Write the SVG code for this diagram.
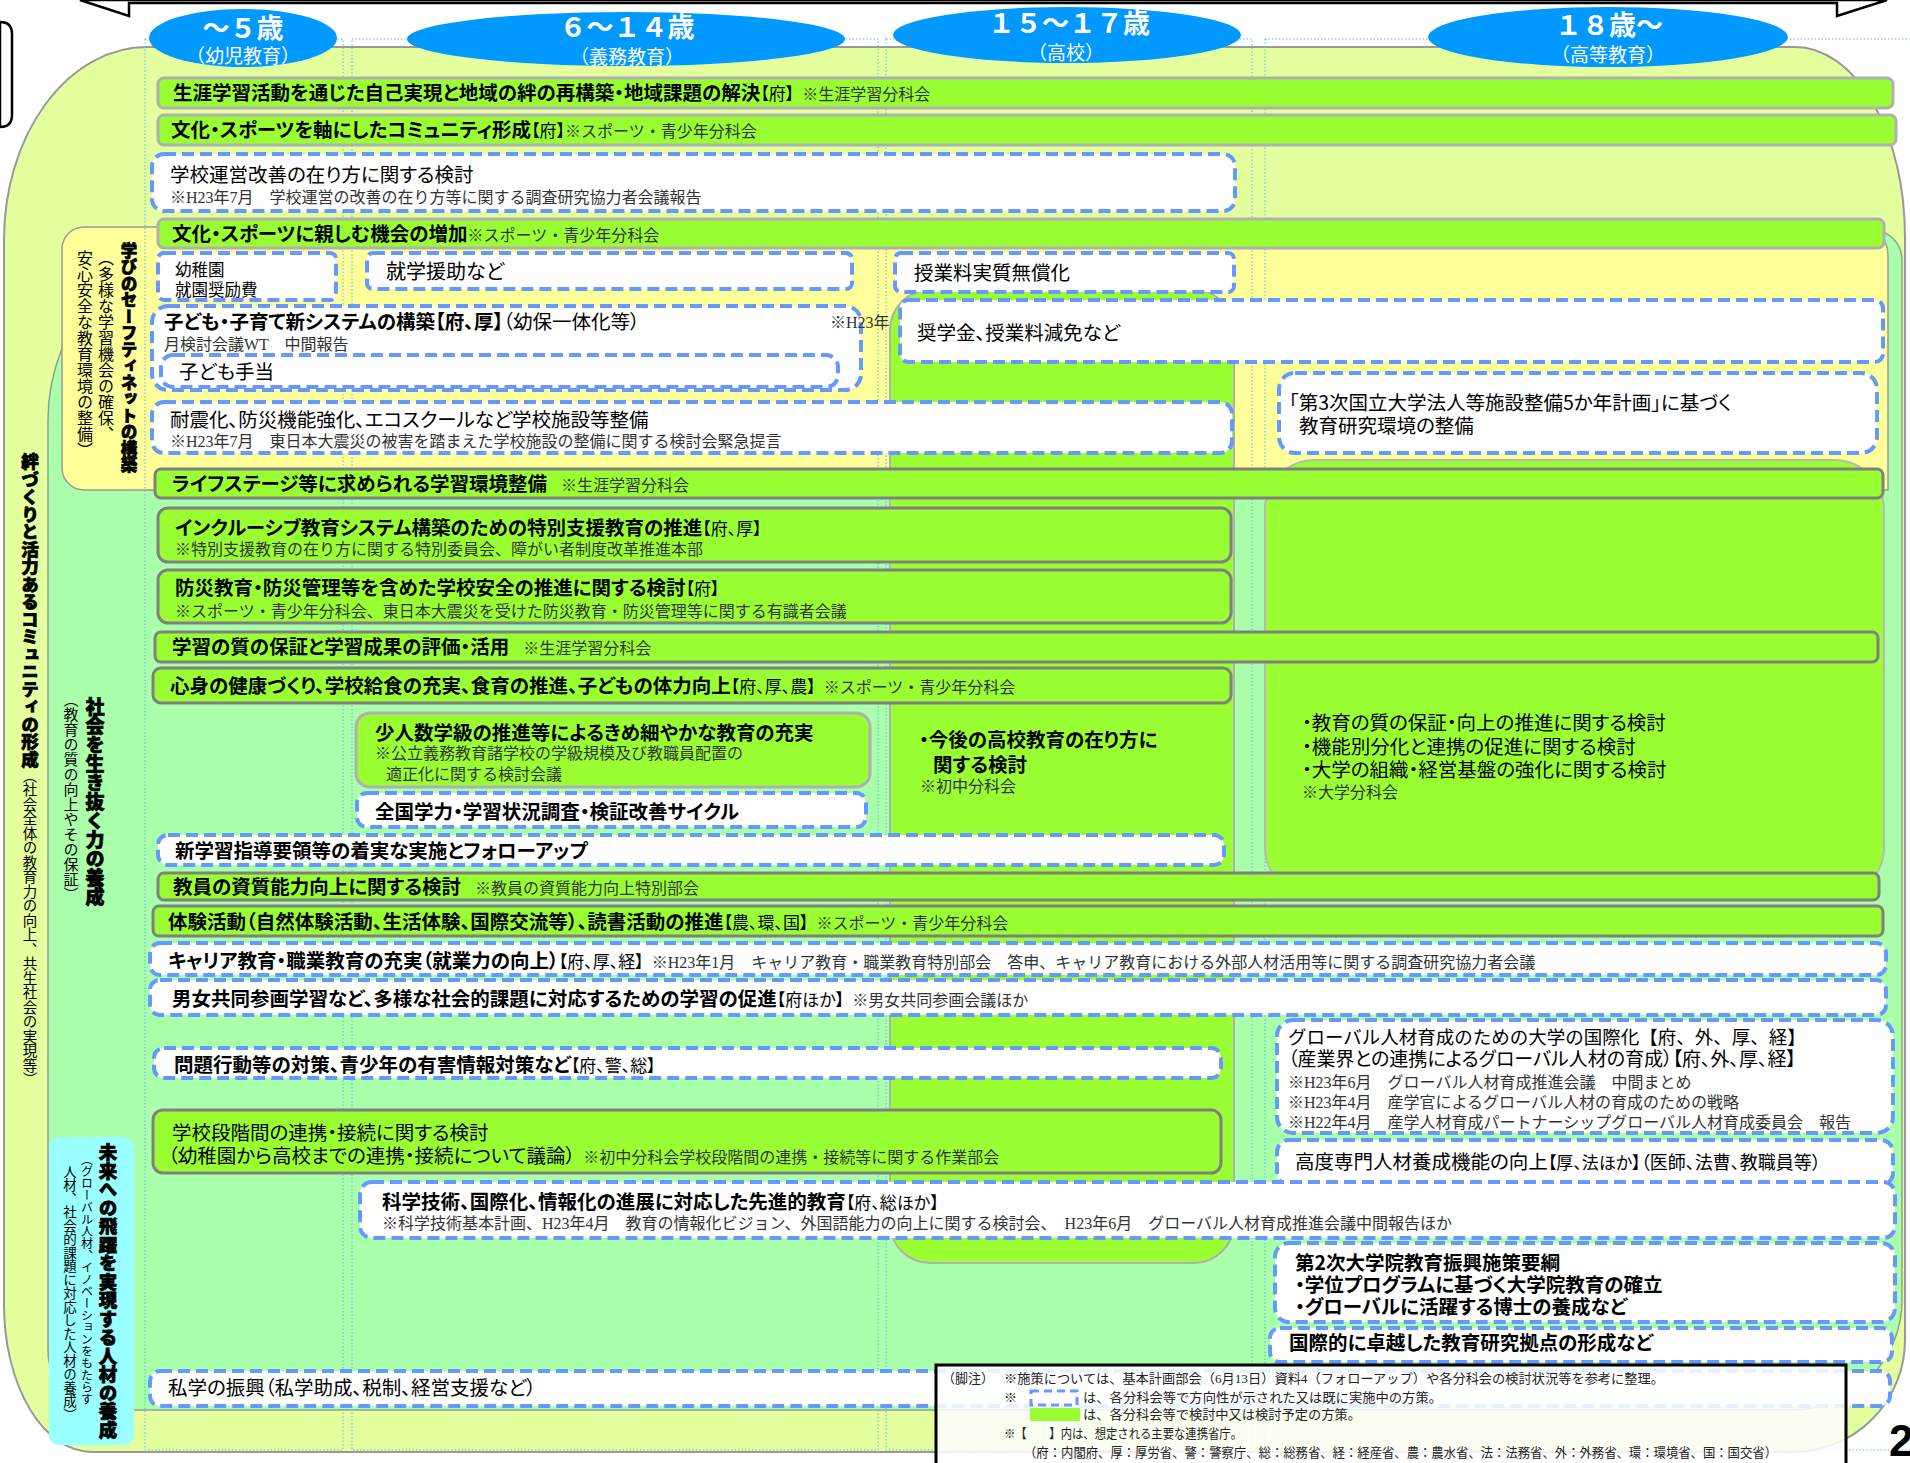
<svg xmlns="http://www.w3.org/2000/svg" width="1910" height="1463" viewBox="0 0 1910 1463">
<defs>
<style>
.t{font-family:'Noto Sans CJK JP','Noto Sans',sans-serif;font-size:19.5px;fill:#000;font-feature-settings:'palt' 1;}
.np{font-feature-settings:normal;}
.bd{font-weight:bold;}
.k{font-weight:normal;font-size:17px;}
.s{font-family:'Liberation Serif','Noto Sans CJK JP',serif;font-weight:normal;font-size:16px;fill:#333;font-feature-settings:normal;}
.b{fill:#fff;stroke:#6699ff;stroke-width:4;stroke-dasharray:12 6;}
.g{fill:#99ff33;stroke:#b0b0b0;stroke-width:3;}
.g2{fill:#99ff33;stroke:#808080;stroke-width:3;}
.v{font-family:'Noto Sans CJK JP',sans-serif;writing-mode:vertical-rl;fill:#000;}
.vb{font-weight:900;stroke:#000;stroke-width:0.7;}
.e{fill:#0099ff;}
.et{font-family:'Noto Sans CJK JP',sans-serif;fill:#fff;text-anchor:middle;}
.f{font-family:'Liberation Serif','Noto Sans CJK JP',serif;font-size:13px;fill:#222;}
.gd{fill:none;stroke:#55bbee;stroke-width:1;stroke-dasharray:1.5 2;}
</style>
</defs>
<rect width="1910" height="1463" fill="#fff"/>

<g id="backgrounds">
<path d="M147,47 H1795 A110,190 0 0 1 1905,237 V1340 A112,112 0 0 1 1793,1452 H92 A88,147 0 0 1 4,1305 V240 A143,193 0 0 1 147,47 Z" fill="#e3ff9e" stroke="#999" stroke-width="2"/>
<path d="M240,230 H1872 A30,30 0 0 1 1902,260 V1300 A110,110 0 0 1 1792,1410 H108 A60,60 0 0 1 48,1350 V420 A192,190 0 0 1 240,230 Z" fill="#aaffaa" stroke="#999" stroke-width="1.5"/>
<path d="M84,227 H1860 A28,28 0 0 1 1888,255 V490 H84 A22,22 0 0 1 62,468 V249 A22,22 0 0 1 84,227 Z" fill="#ffff99" stroke="#999" stroke-width="1.5"/>
<g id="guides">
<rect class="gd" x="145" y="39" width="198" height="1411"/>
<rect class="gd" x="352" y="39" width="526" height="1411"/>
<rect class="gd" x="886" y="39" width="366" height="1411"/>
<rect class="gd" x="1265" y="39" width="660" height="1411"/>
</g>
<rect x="890" y="290" width="344" height="973" rx="40" fill="#99ff33" stroke="#b0b0b0" stroke-width="2"/>
<rect x="1265" y="460" width="619" height="437" rx="50" fill="#99ff33" stroke="#b8b8b8" stroke-width="2"/>
<rect x="49" y="1137" width="85" height="308" rx="10" fill="#99ffff"/>
</g>

<g id="callout">
<path d="M80,0 L129,16 L129,3 L1837,3 L1837,16 L1887,0 Z" fill="#fff" stroke="#000" stroke-width="2.5"/>
<path d="M0,22 Q12,22 12,34 V115 Q12,127 0,127 Z" fill="#fff" stroke="#000" stroke-width="2.5"/>
</g>

<g id="headers">
<g id="h-age5"><ellipse class="e" cx="243" cy="38" rx="94" ry="29"/>
<text class="et" x="243" y="38" style="font-size:27px;font-weight:bold">～５歳</text>
<text class="et" x="243" y="63" style="font-size:19px">（幼児教育）</text></g>
<g id="h-age6"><ellipse class="e" cx="626" cy="39" rx="219" ry="27"/>
<text class="et" x="627" y="37" style="font-size:27px;font-weight:bold">６～１４歳</text>
<text class="et" x="627" y="64" style="font-size:19px">（義務教育）</text></g>
<g id="h-age15"><ellipse class="e" cx="1067" cy="35" rx="174" ry="28"/>
<text class="et" x="1069" y="33" style="font-size:27px;font-weight:bold">１５～１７歳</text>
<text class="et" x="1066" y="60" style="font-size:19px">（高校）</text></g>
<g id="h-age18"><ellipse class="e" cx="1608" cy="37" rx="180" ry="30"/>
<text class="et" x="1609" y="35" style="font-size:27px;font-weight:bold">１８歳～</text>
<text class="et" x="1608" y="62" style="font-size:19px">（高等教育）</text></g>
</g>

<g id="labels">
<text class="v vb" x="129" y="242" style="font-size:16.5px">学びのセーフティネットの構築</text>
<text class="v" x="106" y="250" style="font-size:16px">（多様な学習機会の確保、</text>
<text class="v" x="85" y="250" style="font-size:16px">安心安全な教育環境の整備）</text>
<text class="v" x="30" y="453"><tspan class="vb" style="font-size:17.5px">絆づくりと活力あるコミュニティの形成</tspan><tspan style="font-size:14.5px">（社会全体の教育力の向上、共生社会の実現等）</tspan></text>
<text class="v vb" x="95" y="697" style="font-size:19px">社会を生き抜く力の養成</text>
<text class="v" x="71" y="692" style="font-size:15px">（教育の質の向上やその保証）</text>
<text class="v vb" x="108" y="1143" style="font-size:18.5px">未来への飛躍を実現する人材の養成</text>
<text class="v" x="87" y="1153" style="font-size:12px">（グローバル人材、イノベーションをもたらす</text>
<text class="v" x="70" y="1165" style="font-size:13.5px">人材、社会的課題に対応した人材の養成）</text>
</g>

<g id="connectors"></g>

<g id="n01"><rect class="g" x="158" y="78" width="1735" height="30" rx="6"/>
<text class="t" x="173" y="100"><tspan class="bd">生涯学習活動を通じた自己実現と地域の絆の再構築・地域課題の解決</tspan><tspan class="k">【府】</tspan><tspan class="s" dx="8">※生涯学習分科会</tspan></text></g>

<g id="n02"><rect class="g" x="158" y="115" width="1738" height="30" rx="6"/>
<text class="t" x="171" y="137"><tspan class="bd">文化・スポーツを軸にしたコミュニティ形成</tspan><tspan class="k">【府】</tspan><tspan class="s">※スポーツ・青少年分科会</tspan></text></g>

<g id="n03"><rect class="b" x="152" y="154" width="1083" height="57" rx="12"/>
<text class="t" x="170" y="182">学校運営改善の在り方に関する検討</text>
<text class="t s" x="170" y="203">※H23年7月　学校運営の改善の在り方等に関する調査研究協力者会議報告</text></g>

<g id="n04"><rect class="g" x="158" y="219" width="1726" height="29" rx="6"/>
<text class="t" x="172" y="241"><tspan class="bd">文化・スポーツに親しむ機会の増加</tspan><tspan class="s">※スポーツ・青少年分科会</tspan></text></g>

<g id="n05"><rect class="b" x="158" y="253" width="178" height="47" rx="6"/>
<text class="t" x="175" y="276" style="font-size:16.5px">幼稚園</text>
<text class="t" x="175" y="296" style="font-size:16.5px">就園奨励費</text></g>

<g id="n06"><rect class="b" x="367" y="253" width="485" height="36" rx="6"/>
<text class="t" x="386" y="279" style="font-size:20px">就学援助など</text></g>

<g id="n07"><rect class="b" x="895" y="253" width="339" height="39" rx="6"/>
<text class="t" x="914" y="280">授業料実質無償化</text></g>

<g id="n08"><rect class="b" x="152" y="306" width="709" height="84" rx="16"/>
<text class="t" x="164" y="329"><tspan class="bd">子ども・子育て新システムの構築【府、厚】</tspan><tspan>（幼保一体化等）</tspan></text>
<text class="t s" x="830" y="328">※H23年</text>
<text class="t s" x="164" y="350">月検討会議WT　中間報告</text>
<rect class="b" x="161" y="355" width="677" height="32" rx="12"/>
<text class="t" x="179" y="379">子ども手当</text></g>

<g id="n09"><rect class="b" x="900" y="300" width="983" height="62" rx="8"/>
<text class="t" x="917" y="340">奨学金、授業料減免など</text></g>

<g id="n10"><rect class="b" x="152" y="402" width="1080" height="51" rx="12"/>
<text class="t" x="170" y="427">耐震化、防災機能強化、エコスクールなど学校施設等整備</text>
<text class="t s" x="170" y="447">※H23年7月　東日本大震災の被害を踏まえた学校施設の整備に関する検討会緊急提言</text></g>

<g id="n11"><rect class="b" x="1279" y="373" width="598" height="80" rx="16"/>
<text class="t" x="1289" y="410">「第3次国立大学法人等施設整備5か年計画」に基づく</text>
<text class="t" x="1299" y="433">教育研究環境の整備</text></g>

<g id="n12"><rect class="g2" x="155" y="469" width="1728" height="29" rx="6"/>
<text class="t" x="172" y="491"><tspan class="bd">ライフステージ等に求められる学習環境整備</tspan><tspan class="s" dx="14">※生涯学習分科会</tspan></text></g>

<g id="n13"><rect class="g2" x="158" y="508" width="1073" height="54" rx="10"/>
<text class="t" x="175" y="535"><tspan class="bd">インクルーシブ教育システム構築のための特別支援教育の推進</tspan><tspan class="k">【府、厚】</tspan></text>
<text class="t s" x="175" y="555">※特別支援教育の在り方に関する特別委員会、障がい者制度改革推進本部</text></g>

<g id="n14"><rect class="g2" x="158" y="570" width="1073" height="53" rx="10"/>
<text class="t" x="175" y="595"><tspan class="bd">防災教育・防災管理等を含めた学校安全の推進に関する検討</tspan><tspan class="k">【府】</tspan></text>
<text class="t s" x="175" y="617">※スポーツ・青少年分科会、東日本大震災を受けた防災教育・防災管理等に関する有識者会議</text></g>

<g id="n15"><rect class="g2" x="155" y="632" width="1723" height="30" rx="6"/>
<text class="t" x="172" y="654"><tspan class="bd">学習の質の保証と学習成果の評価・活用</tspan><tspan class="s" dx="14">※生涯学習分科会</tspan></text></g>

<g id="n16"><rect class="g2" x="153" y="668" width="1078" height="35" rx="8"/>
<text class="t" x="170" y="693"><tspan class="bd">心身の健康づくり、学校給食の充実、食育の推進、子どもの体力向上</tspan><tspan class="k">【府、厚、農】</tspan><tspan class="s" dx="8">※スポーツ・青少年分科会</tspan></text></g>

<g id="n17"><rect class="g" x="356" y="713" width="514" height="74" rx="14"/>
<text class="t bd" x="375" y="740">少人数学級の推進等によるきめ細やかな教育の充実</text>
<text class="t s" x="375" y="759">※公立義務教育諸学校の学級規模及び教職員配置の</text>
<text class="t s" x="386" y="780">適正化に関する検討会議</text></g>

<g id="n18">
<text class="t bd" x="919" y="747">・今後の高校教育の在り方に</text>
<text class="t bd" x="933" y="772">関する検討</text>
<text class="t s" x="920" y="792">※初中分科会</text></g>

<g id="n19">
<text class="t" x="1302" y="730">・教育の質の保証・向上の推進に関する検討</text>
<text class="t" x="1302" y="754">・機能別分化と連携の促進に関する検討</text>
<text class="t" x="1302" y="777">・大学の組織・経営基盤の強化に関する検討</text>
<text class="t s" x="1302" y="798">※大学分科会</text></g>

<g id="n20"><rect class="b" x="357" y="793" width="509" height="34" rx="10"/>
<text class="t bd" x="375" y="819">全国学力・学習状況調査・検証改善サイクル</text></g>

<g id="n21"><rect class="b" x="158" y="835" width="1066" height="30" rx="10"/>
<text class="t bd" x="175" y="858">新学習指導要領等の着実な実施とフォローアップ</text></g>

<g id="n22"><rect class="g2" x="158" y="873" width="1721" height="27" rx="6"/>
<text class="t" x="173" y="894"><tspan class="bd">教員の資質能力向上に関する検討</tspan><tspan class="s" dx="14">※教員の資質能力向上特別部会</tspan></text></g>

<g id="n23"><rect class="g2" x="153" y="906" width="1730" height="30" rx="6"/>
<text class="t" x="168" y="929"><tspan class="bd">体験活動（自然体験活動、生活体験、国際交流等）、読書活動の推進</tspan><tspan class="k">【農、環、国】</tspan><tspan class="s" dx="8">※スポーツ・青少年分科会</tspan></text></g>

<g id="n24"><rect class="b" x="150" y="943" width="1736" height="32" rx="10"/>
<text class="t" x="168" y="968"><tspan class="bd">キャリア教育・職業教育の充実（就業力の向上）</tspan><tspan class="k">【府、厚、経】</tspan><tspan class="s" dx="8">※H23年1月　キャリア教育・職業教育特別部会　答申、キャリア教育における外部人材活用等に関する調査研究協力者会議</tspan></text></g>

<g id="n25"><rect class="b" x="150" y="980" width="1736" height="35" rx="10"/>
<text class="t" x="172" y="1006"><tspan class="bd">男女共同参画学習など、多様な社会的課題に対応するための学習の促進</tspan><tspan class="k">【府ほか】</tspan><tspan class="s" dx="8">※男女共同参画会議ほか</tspan></text></g>

<g id="n26"><rect class="b" x="154" y="1048" width="1067" height="30" rx="10"/>
<text class="t" x="174" y="1072"><tspan class="bd">問題行動等の対策、青少年の有害情報対策など</tspan><tspan class="k">【府、警、総】</tspan></text></g>

<g id="n27"><rect class="b" x="1277" y="1020" width="616" height="113" rx="16"/>
<text class="t np" x="1288" y="1044" style="font-size:18.5px">グローバル人材育成のための大学の国際化【府、外、厚、経】</text>
<text class="t" x="1288" y="1066" style="font-size:19px">（産業界との連携によるグローバル人材の育成）【府、外、厚、経】</text>
<text class="t s" x="1288" y="1088">※H23年6月　グローバル人材育成推進会議　中間まとめ</text>
<text class="t s" x="1288" y="1108">※H23年4月　産学官によるグローバル人材の育成のための戦略</text>
<text class="t s" x="1288" y="1128">※H22年4月　産学人材育成パートナーシップグローバル人材育成委員会　報告</text></g>

<g id="n28"><rect class="g2" x="153" y="1110" width="1068" height="63" rx="10"/>
<text class="t" x="172" y="1140">学校段階間の連携・接続に関する検討</text>
<text class="t" x="168" y="1163"><tspan>（幼稚園から高校までの連携・接続について議論）</tspan><tspan class="s" dx="8">※初中分科会学校段階間の連携・接続等に関する作業部会</tspan></text></g>

<g id="n29"><rect class="b" x="1277" y="1140" width="616" height="45" rx="12"/>
<text class="t" x="1295" y="1169"><tspan>高度専門人材養成機能の向上</tspan><tspan class="k">【厚、法ほか】</tspan><tspan style="font-size:18px">（医師、法曹、教職員等）</tspan></text></g>

<g id="n30"><rect class="b" x="360" y="1182" width="1535" height="56" rx="12"/>
<text class="t" x="382" y="1209"><tspan class="bd">科学技術、国際化、情報化の進展に対応した先進的教育</tspan><tspan class="k">【府、総ほか】</tspan></text>
<text class="t s" x="382" y="1229">※科学技術基本計画、H23年4月　教育の情報化ビジョン、外国語能力の向上に関する検討会、　H23年6月　グローバル人材育成推進会議中間報告ほか</text></g>

<g id="n31"><rect class="b" x="1275" y="1243" width="620" height="79" rx="14"/>
<text class="t bd" x="1295" y="1270">第2次大学院教育振興施策要綱</text>
<text class="t bd" x="1295" y="1292">・学位プログラムに基づく大学院教育の確立</text>
<text class="t bd" x="1295" y="1314">・グローバルに活躍する博士の養成など</text></g>

<g id="n32"><rect class="b" x="1270" y="1328" width="622" height="34" rx="10"/>
<text class="t bd" x="1289" y="1350">国際的に卓越した教育研究拠点の形成など</text></g>

<g id="n33"><rect class="b" x="150" y="1371" width="1740" height="35" rx="10"/>
<text class="t" x="168" y="1395">私学の振興（私学助成、税制、経営支援など）</text></g>

<g id="n34">
<rect x="936" y="1365" width="910" height="100" fill="#fff" fill-opacity="0.85" stroke="#000" stroke-width="3"/>
<text class="f" x="942" y="1383">（脚注）</text>
<text class="f" x="1004" y="1383" textLength="660" lengthAdjust="spacingAndGlyphs">※施策については、基本計画部会（6月13日）資料4（フォローアップ）や各分科会の検討状況等を参考に整理。</text>
<text class="f" x="1004" y="1402">※</text>
<rect x="1031" y="1391" width="46" height="14" fill="#fff" stroke="#6699ff" stroke-width="3" stroke-dasharray="8 5"/>
<text class="f" x="1083" y="1402" textLength="359" lengthAdjust="spacingAndGlyphs">は、各分科会等で方向性が示された又は既に実施中の方策。</text>
<rect x="1030" y="1408" width="50" height="13" fill="#99ff33"/>
<text class="f" x="1083" y="1419" textLength="278" lengthAdjust="spacingAndGlyphs">は、各分科会等で検討中又は検討予定の方策。</text>
<text class="f" x="1004" y="1438" textLength="238" lengthAdjust="spacingAndGlyphs">※【　　】内は、想定される主要な連携省庁。</text>
<text class="f" x="1024" y="1457" textLength="753" lengthAdjust="spacingAndGlyphs">（府：内閣府、厚：厚労省、警：警察庁、総：総務省、経：経産省、農：農水省、法：法務省、外：外務省、環：環境省、国：国交省）</text>
</g>

<text x="1889" y="1456" style="font-family:'Liberation Sans',sans-serif;font-size:44px;font-weight:bold" fill="#000">2</text>
</svg>
